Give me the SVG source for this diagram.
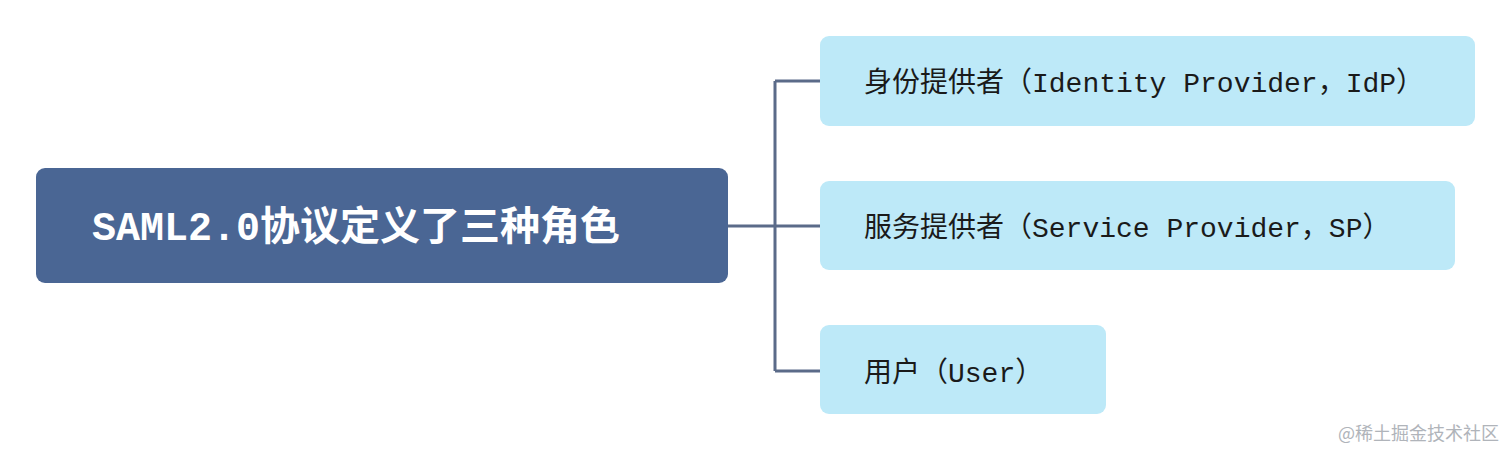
<svg xmlns="http://www.w3.org/2000/svg" width="1512" height="458" viewBox="0 0 1512 458">
<style>
.t{font-family:"Liberation Mono","Noto Sans CJK SC",monospace;font-size:28px;fill:#1a1a1a}
.leaf{fill:#bde9f8}
.c{stroke:#5b6b89;stroke-width:3;fill:none}
</style>
<rect width="1512" height="458" fill="#fff"/>
<g id="root">
<rect x="36" y="168" width="692" height="115" rx="9" fill="#4a6694"/>
<text x="92" y="240" font-family="'Liberation Mono','Noto Sans CJK SC',monospace" font-size="40" font-weight="bold" fill="#fff">SAML2.0协议定义了三种角色</text>
</g>
<g id="connectors">
<path class="c" d="M728 226H775M775 81V371M775 81H820M775 226H820M775 371H820"/>
</g>
<g id="idp">
<rect class="leaf" x="820" y="36" width="655" height="90" rx="9"/>
<text class="t" x="864" y="92">身份提供者（Identity Provider，IdP）</text>
</g>
<g id="sp">
<rect class="leaf" x="820" y="181" width="635" height="89" rx="9"/>
<text class="t" x="864" y="237">服务提供者（Service Provider，SP）</text>
</g>
<g id="user">
<rect class="leaf" x="820" y="325" width="286" height="89" rx="9"/>
<text class="t" x="864" y="382">用户（User）</text>
</g>
<text x="1338" y="440" font-family="'Noto Sans CJK SC',sans-serif" font-size="18" fill="#b0b4ba">@稀土掘金技术社区</text>
</svg>
